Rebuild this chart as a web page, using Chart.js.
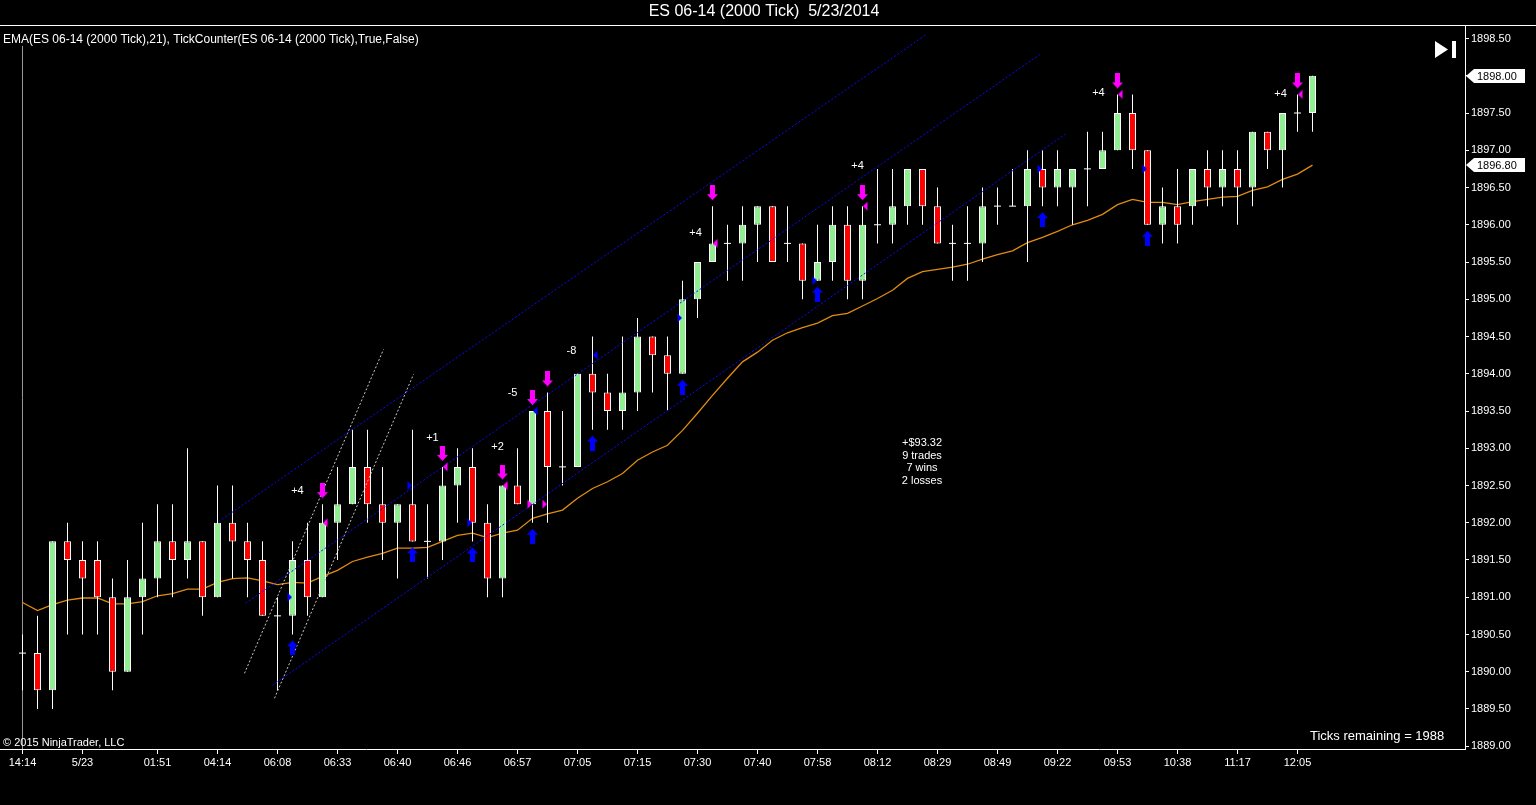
<!DOCTYPE html>
<html><head><meta charset="utf-8">
<script src="https://cdn.jsdelivr.net/npm/chart.js@4.4.0/dist/chart.umd.min.js"></script>
<style>
html,body{margin:0;padding:0;background:#000;overflow:hidden;}
canvas{display:block;}
</style></head><body>
<canvas id="c" width="1536" height="805"></canvas>
<script>
// ---------- DATA ----------
const chartTitle = 'ES 06-14 (2000 Tick)  5/23/2014';
const indicatorText = 'EMA(ES 06-14 (2000 Tick),21), TickCounter(ES 06-14 (2000 Tick),True,False)';
const copyrightText = '\u00A9 2015 NinjaTrader, LLC';
const ticksRemainingText = 'Ticks remaining = 1988';
const statsLines = ['+$93.32', '9 trades', '7 wins', '2 losses'];

const xTickIdx = [0,4,9,13,17,21,25,29,33,37,41,45,49,53,57,61,65,69,73,77,81,85];
const xTickLabels = ['14:14','5/23','01:51','04:14','06:08','06:33','06:40','06:46','06:57','07:05','07:15','07:30','07:40','07:58','08:12','08:29','08:49','09:22','09:53','10:38','11:17','12:05'];
const yTickValues = [1889,1889.5,1890,1890.5,1891,1891.5,1892,1892.5,1893,1893.5,1894,1894.5,1895,1895.5,1896,1896.5,1897,1897.5,1898,1898.5];

const openP = [1890.25,1890.25,1889.75,1891.75,1891.5,1891.5,1891,1890,1891,1891.25,1891.75,1891.5,1891.75,1891,1892,
 1891.75,1891.5,1890.75,1890.75,1891.5,1891,1892,1892.25,1892.75,1892.25,1892,1892.25,1891.75,1891.75,1892.5,
 1892.75,1892,1891.25,1892.5,1892.25,1893.5,1892.75,1892.75,1894,1893.75,1893.5,1893.75,1894.5,1894.25,1894,
 1895,1895.5,1895.75,1895.75,1896,1896.25,1895.75,1895.75,1895.25,1895.5,1896,1895.25,1896,1896,1896.25,
 1896.75,1896.25,1895.75,1895.75,1895.75,1896.25,1896.25,1896.25,1896.75,1896.5,1896.5,1896.75,1896.75,1897,1897.5,
 1897,1896,1896.25,1896.25,1896.75,1896.5,1896.75,1896.5,1897.25,1897,1897.5,1897.5];
const highP = [1890.5,1890.75,1891.75,1892,1891.75,1891.75,1891.25,1891.5,1892,1892.25,1892.25,1893,1891.75,1892.5,1892.5,
 1892,1891.75,1891,1891.75,1892,1892.25,1892.75,1893.25,1893.25,1892.75,1892.25,1893.25,1892.25,1892.75,1893,
 1893,1892.25,1892.5,1893,1893.5,1893.75,1893.5,1894,1894.5,1894,1894.5,1894.75,1894.5,1894.5,1895.25,
 1895.5,1896.25,1896,1896.25,1896.25,1896.25,1896.25,1895.75,1896,1896.25,1896.25,1896.25,1896.75,1896.75,1896.75,
 1896.75,1896.5,1896,1896.25,1896.5,1896.5,1896.75,1897,1897,1897,1896.75,1897.25,1897.25,1897.75,1897.75,
 1897,1896.5,1896.75,1896.75,1897,1897,1897,1897.25,1897.25,1897.5,1897.75,1898];
const lowP = [1889.75,1889.5,1889.5,1890.5,1890.5,1890.5,1889.75,1890,1890.5,1891,1891,1891.25,1890.75,1891,1891.25,
 1891,1890.75,1889.75,1890.5,1890.75,1891,1891.5,1892.25,1892,1891.5,1891.25,1891.75,1891.25,1891.5,1892,
 1891.75,1891,1891,1892.25,1892,1892,1892.5,1892.75,1893.25,1893.25,1893.25,1893.5,1893.75,1893.5,1894,
 1894.75,1895.5,1895.25,1895.25,1895.5,1895.5,1895.5,1895,1895.25,1895.25,1895,1895,1895.75,1895.75,1896,
 1896,1895.75,1895.25,1895.25,1895.5,1896,1896.25,1895.5,1896.25,1896.25,1896,1896.25,1896.75,1897,1896.75,
 1896,1895.75,1895.75,1896,1896.25,1896.25,1896,1896.25,1896.75,1896.5,1897.25,1897.25];
const closeP = [1890.25,1889.75,1891.75,1891.5,1891.25,1891,1890,1891,1891.25,1891.75,1891.5,1891.75,1891,1892,1891.75,
 1891.5,1890.75,1890.75,1891.5,1891,1892,1892.25,1892.75,1892.25,1892,1892.25,1891.75,1891.75,1892.5,1892.75,
 1892,1891.25,1892.5,1892.25,1893.5,1892.75,1892.75,1894,1893.75,1893.5,1893.75,1894.5,1894.25,1894,1895,
 1895.5,1895.75,1895.75,1896,1896.25,1895.5,1895.75,1895.25,1895.5,1896,1895.25,1896,1896,1896.25,1896.75,
 1896.25,1895.75,1895.75,1895.75,1896.25,1896.25,1896.25,1896.75,1896.5,1896.75,1896.75,1896.75,1897,1897.5,1897,
 1896,1896.25,1896,1896.75,1896.5,1896.75,1896.5,1897.25,1897,1897.5,1897.5,1898];
const ema21 = [1890.93,1890.82,1890.90,1890.96,1890.99,1890.99,1890.91,1890.91,1890.94,1891.02,1891.05,1891.11,1891.11,1891.20,1891.25,
 1891.26,1891.22,1891.17,1891.20,1891.19,1891.28,1891.36,1891.48,1891.54,1891.59,1891.66,1891.66,1891.67,1891.75,1891.83,
 1891.86,1891.80,1891.86,1891.90,1892.06,1892.12,1892.17,1892.33,1892.46,1892.55,1892.66,1892.84,1892.95,1893.04,1893.24,
 1893.47,1893.71,1893.94,1894.16,1894.29,1894.45,1894.55,1894.62,1894.68,1894.78,1894.81,1894.91,1895.01,1895.12,1895.28,
 1895.37,1895.40,1895.43,1895.47,1895.54,1895.60,1895.65,1895.76,1895.83,1895.91,1896.00,1896.06,1896.14,1896.27,1896.34,
 1896.30,1896.30,1896.27,1896.31,1896.34,1896.37,1896.38,1896.46,1896.51,1896.61,1896.68,1896.80];

// signal arrows (bar indices)
const sellArrowIdx = [20,28,32,34,35,46,56,73,85];
const buyArrowIdx = [18,26,30,34,38,44,53,68,75];

// executed trades
const tradeSide = ['L','L','L','S','S','L','L','L','L'];
const tradeEntryIdx = [18,26,30,34,35,44,53,68,75];
const tradeEntryPrice = [1891,1892.5,1892,1892.25,1892.25,1894.75,1895.25,1896.75,1896.75];
const tradeExitIdx = [20,28,32,34,38,46,56,73,85];
const tradeExitPrice = [1892,1892.75,1892.5,1893.5,1894.25,1895.75,1896.25,1897.75,1897.75];
const tradeTicks = ['+4','+1','+2','-5','-8','+4','+4','+4','+4'];
const tradeLabelX = [18.33,27.33,31.67,32.67,36.6,44.87,55.67,71.73,83.87];
const tradeLabelY = [1892.43,1893.14,1893.02,1893.74,1894.31,1895.89,1896.79,1897.77,1897.76];

// drawn trend / channel lines (bar index, price)
const channelLines = [
  [[13.07,1892.015],[60.2,1898.547]],
  [[14.87,1890.919],[67.87,1898.292]],
  [[16.67,1889.822],[69.53,1897.218]]
];
const grayLines = [
  [[14.8,1889.979],[24.07,1894.328]],
  [[16.8,1889.644],[26.07,1893.993]]
];
const sessionBreakIdx = 0;
const sessionBreakTop = 1898.40;

// ---------- CHART ----------
const FONT = '"Liberation Sans", Arial, sans-serif';
Chart.defaults.font.family = FONT;
const Y_MIN = 1888.963, Y_MAX = 1898.668;
const GREEN = '#90ee90', RED = '#ff0000';

function mk(w,h,draw){const c=document.createElement('canvas');c.width=w;c.height=h;draw(c.getContext('2d'));return c;}
const imgDown = mk(11,42,g=>{g.fillStyle='#ff00ff';g.beginPath();g.moveTo(3,0);g.lineTo(8,0);g.lineTo(8,9);g.lineTo(11,9);g.lineTo(5.5,15);g.lineTo(0,9);g.lineTo(3,9);g.closePath();g.fill();});
const imgUp = mk(11,42,g=>{g.fillStyle='#0000ff';g.beginPath();g.moveTo(5.5,27);g.lineTo(11,33);g.lineTo(8,33);g.lineTo(8,42);g.lineTo(3,42);g.lineTo(3,33);g.lineTo(0,33);g.closePath();g.fill();});
function triR(col){return mk(15,10,g=>{g.fillStyle=col;g.beginPath();g.moveTo(2.5,0.5);g.lineTo(7,5);g.lineTo(2.5,9.5);g.closePath();g.fill();});}
function triL(col){return mk(15,10,g=>{g.fillStyle=col;g.beginPath();g.moveTo(12.5,0.5);g.lineTo(8,5);g.lineTo(12.5,9.5);g.closePath();g.fill();});}
const imgEntryLong = triR('#0000ff'), imgEntryShort = triR('#ff00ff');
const imgExitLong = triL('#ff00ff'), imgExitShort = triL('#0000ff');

const n = openP.length;
const idx = [...Array(n).keys()];
const bodyData = idx.filter(i=>openP[i]!==closeP[i]).map(i=>({x:i,y:[openP[i],closeP[i]],up:closeP[i]>openP[i]}));
const dojiData = idx.filter(i=>openP[i]===closeP[i]).map(i=>({x:i,y:openP[i]}));
const wickData = idx.map(i=>({x:i,y:[lowP[i],highP[i]]}));
const emaData = idx.map(i=>({x:i,y:ema21[i]}));

const datasets = [];
datasets.push({type:'scatter',order:0,data:sellArrowIdx.map(i=>({x:i,y:highP[i]})),pointStyle:imgDown,pointRadius:5});
datasets.push({type:'scatter',order:0,data:buyArrowIdx.map(i=>({x:i,y:lowP[i]})),pointStyle:imgUp,pointRadius:5});
datasets.push({type:'scatter',order:0,data:tradeEntryIdx.map((i,k)=>({x:i,y:tradeEntryPrice[k]})),
  pointStyle:tradeSide.map(s=>s==='L'?imgEntryLong:imgEntryShort),pointRadius:5});
datasets.push({type:'scatter',order:0,data:tradeExitIdx.map((i,k)=>({x:i,y:tradeExitPrice[k]})),
  pointStyle:tradeSide.map(s=>s==='L'?imgExitLong:imgExitShort),pointRadius:5});
channelLines.forEach(l=>datasets.push({type:'line',order:1,data:l.map(p=>({x:p[0],y:p[1]})),borderColor:'#0a0aff',borderWidth:1,borderDash:[2,2],pointRadius:0,tension:0}));
grayLines.forEach(l=>datasets.push({type:'line',order:1,data:l.map(p=>({x:p[0],y:p[1]})),borderColor:'#c8c8c8',borderWidth:1,borderDash:[2,2],pointRadius:0,tension:0}));
datasets.push({type:'scatter',order:2,data:dojiData,pointStyle:'line',pointRadius:3.5,borderColor:'#fff',pointBorderColor:'#fff',pointBorderWidth:1});
datasets.push({type:'bar',order:3,data:bodyData,grouped:false,barThickness:7,borderWidth:1,borderColor:'#fff',borderSkipped:false,inflateAmount:0,
  backgroundColor:c=>c.raw&&c.raw.up?GREEN:RED});
datasets.push({type:'bar',order:4,data:wickData,grouped:false,barThickness:1,borderWidth:0,backgroundColor:'#fff',inflateAmount:0});
datasets.push({type:'line',order:5,data:emaData,borderColor:'#e08c10',borderWidth:1.3,pointRadius:0,tension:0});
datasets.push({type:'line',order:6,data:[{x:sessionBreakIdx,y:Y_MIN},{x:sessionBreakIdx,y:sessionBreakTop}],borderColor:'#9a9a9a',borderWidth:1,pointRadius:0});

const overlay = {
  id:'overlay',
  afterDatasetsDraw(chart){
    const g=chart.ctx, xs=chart.scales.x, ys=chart.scales.y;
    g.save();
    g.font='11px '+FONT; g.fillStyle='#fff'; g.textAlign='center'; g.textBaseline='middle';
    tradeTicks.forEach((t,k)=>g.fillText(t, xs.getPixelForValue(tradeLabelX[k]), ys.getPixelForValue(tradeLabelY[k])));
    g.restore();
  },
  afterDraw(chart){
    const g=chart.ctx, ys=chart.scales.y, a=chart.chartArea;
    g.save();
    g.strokeStyle='#fff'; g.lineWidth=1;
    g.beginPath(); g.moveTo(0,a.top-0.5); g.lineTo(chart.width,a.top-0.5); g.stroke();
    g.fillStyle='#fff'; g.textBaseline='middle';
    g.font='16px '+FONT; g.textAlign='center'; g.fillText(chartTitle,764,12);
    g.font='12px '+FONT; g.textAlign='left'; g.fillText(indicatorText,3,40);
    g.font='11px '+FONT; g.fillText(copyrightText,3,743);
    g.font='13px '+FONT; g.fillText(ticksRemainingText,1310,736);
    g.font='11px '+FONT; g.textAlign='center';
    statsLines.forEach((s,k)=>g.fillText(s,922,443+k*12.7));
    g.beginPath(); g.moveTo(1435,41); g.lineTo(1448,49.5); g.lineTo(1435,58); g.closePath(); g.fill();
    g.fillRect(1452,41,4,17);
    const tags=[closeP[n-1], ema21[n-1]];
    g.font='11px '+FONT; g.textAlign='left';
    tags.forEach(v=>{
      const y=Math.round(ys.getPixelForValue(v));
      g.fillStyle='#fff';
      g.beginPath(); g.moveTo(a.right+1,y); g.lineTo(a.right+9,y-7); g.lineTo(1525,y-7); g.lineTo(1525,y+7); g.lineTo(a.right+9,y+7); g.closePath(); g.fill();
      g.fillStyle='#000'; g.fillText(v.toFixed(2),1477,y+0.5);
    });
    g.restore();
  }
};

new Chart(document.getElementById('c'), {
  type:'bar',
  data:{datasets},
  options:{
    responsive:false, animation:false, devicePixelRatio:1,
    layout:{autoPadding:false,padding:{top:26,left:0,right:0,bottom:0}},
    plugins:{legend:{display:false},tooltip:{enabled:false},title:{display:false}},
    scales:{
      x:{type:'linear',min:-1.5,max:96.1667,offset:false,position:'bottom',
        grid:{drawOnChartArea:false,color:'#fff',tickLength:5,offset:false},
        border:{color:'#fff',width:1},
        ticks:{color:'#fff',font:{size:11},autoSkip:false,maxRotation:0,padding:2,callback:(v,i)=>xTickLabels[i]},
        afterBuildTicks:s=>{s.ticks=xTickIdx.map(v=>({value:v}));},
        afterFit:s=>{s.height=56;s.paddingLeft=0;s.paddingRight=0;}},
      y:{type:'linear',position:'right',min:Y_MIN,max:Y_MAX,
        grid:{drawOnChartArea:false,color:'#fff',tickLength:4},
        border:{color:'#fff',width:1},
        ticks:{color:'#fff',font:{size:11},padding:2,callback:v=>Number(v).toFixed(2)},
        afterBuildTicks:s=>{s.ticks=yTickValues.map(v=>({value:v}));},
        afterFit:s=>{s.width=71;s.paddingTop=0;s.paddingBottom=0;}}
    }
  },
  plugins:[overlay]
});
</script>
</body></html>
